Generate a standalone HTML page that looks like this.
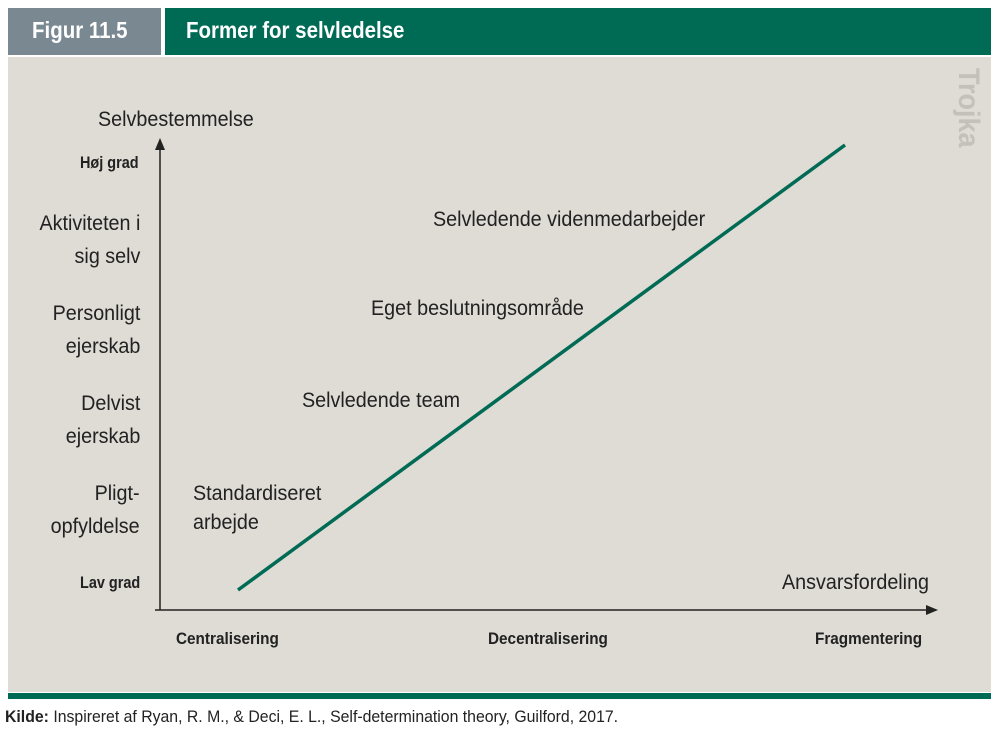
<!DOCTYPE html>
<html><head><meta charset="utf-8"><style>
body{margin:0;width:1004px;height:732px;background:#fff;position:relative;overflow:hidden;font-family:"Liberation Sans",sans-serif;color:#222}
.a{position:absolute;white-space:nowrap}
.r{transform:scaleX(0.94);transform-origin:0 0}
.rr{transform:scaleX(0.94);transform-origin:100% 0}
.b{transform:scaleX(0.89);transform-origin:0 0;font-weight:bold}
</style></head><body>
<div class="a" style="left:8px;top:8px;width:153px;height:47px;background:#7a8892"></div>
<div class="a b" style="left:32px;top:17px;font-size:23px;color:#fff">Figur 11.5</div>
<div class="a" style="left:165px;top:8px;width:826px;height:47px;background:#006b55"></div>
<div class="a b" style="left:186px;top:17px;font-size:23px;color:#fff">Former for selvledelse</div>
<div class="a" style="left:8px;top:57px;width:983px;height:635px;background:#dfdbd5"></div>
<div class="a" style="left:8px;top:693px;width:983px;height:6px;background:#006b55"></div>
<div class="a r" style="left:5px;top:707px;font-size:17px;transform:scaleX(0.93)"><b>Kilde:</b> Inspireret af Ryan, R. M., &amp; Deci, E. L., Self-determination theory, Guilford, 2017.</div>
<div class="a" style="top:68px;font-size:30px;font-weight:bold;color:#c4c1bb;transform:rotate(90deg) scaleX(0.9);transform-origin:0 0;left:985px">Trojka</div>
<svg class="a" style="left:0;top:0" width="1004" height="732">
<line x1="160" y1="610" x2="160" y2="146" stroke="#222" stroke-width="1.5"/>
<polygon points="160,138 155,150 165,150" fill="#222"/>
<line x1="155" y1="610" x2="930" y2="610" stroke="#222" stroke-width="1.5"/>
<polygon points="938,610 926,605 926,615" fill="#222"/>
<line x1="238" y1="590" x2="845" y2="145" stroke="#006b55" stroke-width="3.5"/>
</svg>
<div class="a r" style="left:98px;top:108px;font-size:21px">Selvbestemmelse</div>
<div class="a b" style="left:80px;top:153px;font-size:17px;transform:scaleX(0.85)">Høj grad</div>
<div class="a rr" style="right:864px;top:207px;font-size:21px;text-align:right;line-height:33px">Aktiviteten i<br>sig selv</div>
<div class="a rr" style="right:864px;top:297px;font-size:21px;text-align:right;line-height:33px">Personligt<br>ejerskab</div>
<div class="a rr" style="right:864px;top:387px;font-size:21px;text-align:right;line-height:33px">Delvist<br>ejerskab</div>
<div class="a rr" style="right:864px;top:477px;font-size:21px;text-align:right;line-height:33px">Pligt-<br>opfyldelse</div>
<div class="a b" style="left:80px;top:573px;font-size:17px;transform:scaleX(0.85)">Lav grad</div>
<div class="a r" style="left:193px;top:479px;font-size:21px;line-height:29px">Standardiseret<br>arbejde</div>
<div class="a r" style="left:302px;top:389px;font-size:21px">Selvledende team</div>
<div class="a r" style="left:371px;top:297px;font-size:21px">Eget beslutningsområde</div>
<div class="a r" style="left:433px;top:208px;font-size:21px">Selvledende videnmedarbejder</div>
<div class="a r" style="left:782px;top:571px;font-size:21px">Ansvarsfordeling</div>
<div class="a b" style="left:176px;top:629px;font-size:17px;transform:scaleX(0.9)">Centralisering</div>
<div class="a b" style="left:488px;top:629px;font-size:17px;transform:scaleX(0.9)">Decentralisering</div>
<div class="a b" style="left:815px;top:629px;font-size:17px;transform:scaleX(0.9)">Fragmentering</div>
</body></html>
